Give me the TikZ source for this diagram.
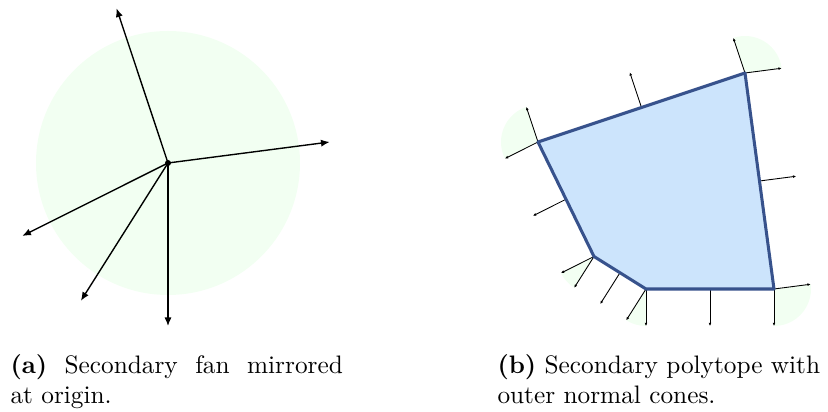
\documentclass[tikz,border=0pt]{standalone}
\usetikzlibrary{arrows.meta,calc}

\definecolor{polyfill}{RGB}{204,228,252}
\definecolor{polyedge}{RGB}{55,82,140}

\begin{document}
\begin{tikzpicture}[x=0.0139cm,y=0.0139cm,
  fanray/.style={-{Latex[length=1.2mm,width=1mm]},line width=0.55pt},
  normal/.style={-{Latex[length=0.45mm,width=0.4mm]},line width=0.35pt},
  cone/.style={fill=green!5,draw=none},
  caption/.style={anchor=north west,inner sep=0pt,align=justify,text width=4.62cm}]
\useasboundingbox (0,0) rectangle (828,412);
% fan
\coordinate (o) at (168,249);
\fill[green!5] (o) circle (132);
\foreach \a/\n in {108.4/1,7.4/2,206.6/3,237.7/4,270/5}
  \path (o) ++(\a:163) coordinate (r\n);
\foreach \n in {1,...,5} \draw[fanray] (o) -- (r\n);
\fill (o) circle (3);
% polytope
\coordinate (a) at (538,270); \coordinate (b) at (745,339); \coordinate (c) at (774,123);
\coordinate (d) at (646,123); \coordinate (e) at (594,155.5);
\fill[cone] (a) -- ++(108.4:37) arc[start angle=108.4,end angle=206.6,radius=37] -- cycle;
\fill[cone] (b) -- ++(7.4:37) arc[start angle=7.4,end angle=108.4,radius=37] -- cycle;
\fill[cone] (c) -- ++(-90:37) arc[start angle=-90,end angle=7.4,radius=37] -- cycle;
\fill[cone] (d) -- ++(237.7:37) arc[start angle=237.7,end angle=270,radius=37] -- cycle;
\fill[cone] (e) -- ++(206.6:37) arc[start angle=206.6,end angle=237.7,radius=37] -- cycle;
\foreach \p/\q/\a in {a/b/108.4,b/c/7.4,c/d/270,d/e/237.7,e/a/206.6} {
  \coordinate (m\p) at ($(\p)!0.5!(\q)$);
  \path (m\p) ++(\a:37) coordinate (n\p);
  \path (\p) ++(\a:37) coordinate (u\p);
  \path (\q) ++(\a:37) coordinate (v\p);
  \draw[normal] (m\p) -- (n\p);
  \draw[normal] (\p) -- (u\p);
  \draw[normal] (\q) -- (v\p);
}
\draw[polyedge,line width=1.2pt,fill=polyfill,line join=round] (a) -- (b) -- (c) -- (d) -- (e) -- cycle;
% captions
\node[caption] (capa) at (10,58) {\textbf{(a)} Secondary fan mirrored\linebreak at origin.};
\node[caption] (capb) at (497,58) {\textbf{(b)} Secondary polytope with\newline outer normal cones.};
\end{tikzpicture}
\end{document}
